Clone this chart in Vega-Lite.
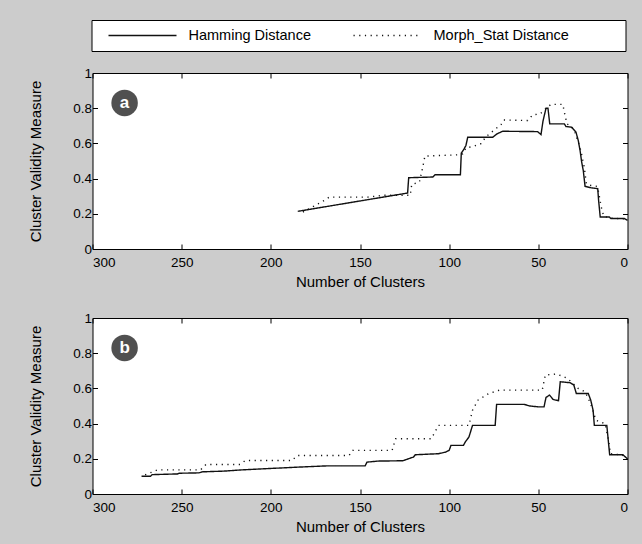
{
  "$schema": "https://vega.github.io/schema/vega-lite/v6.json",
  "background": "#cccccc",
  "padding": {"left": 27.5, "top": 19, "right": 10.5, "bottom": 9},
  "config": {
    "font": "Liberation Sans",
    "view": {"stroke": "#000000", "strokeWidth": 1, "fill": "white"},
    "axis": {
      "grid": false, "domain": false, "tickColor": "#000000", "tickSize": -5, "tickWidth": 1,
      "labelColor": "#000000", "titleColor": "#000000", "labelFontSize": 13.5, "titleFontSize": 15,
      "titleFontWeight": "normal", "labelFont": "Liberation Sans", "titleFont": "Liberation Sans"
    },
    "axisX": {"labelPadding": 11, "titlePadding": 6},
    "axisY": {"labelPadding": 6, "titlePadding": 29}
  },
  "datasets": {
    "a": [
      {"s": "Hamming Distance", "i": 1, "x": 184.9, "y": 0.214},
      {"s": "Hamming Distance", "i": 2, "x": 123.3, "y": 0.318},
      {"s": "Hamming Distance", "i": 3, "x": 122.7, "y": 0.405},
      {"s": "Hamming Distance", "i": 4, "x": 109.2, "y": 0.409},
      {"s": "Hamming Distance", "i": 5, "x": 107.9, "y": 0.422},
      {"s": "Hamming Distance", "i": 6, "x": 93.7, "y": 0.422},
      {"s": "Hamming Distance", "i": 7, "x": 93.2, "y": 0.545},
      {"s": "Hamming Distance", "i": 8, "x": 91.9, "y": 0.564},
      {"s": "Hamming Distance", "i": 9, "x": 90.6, "y": 0.588},
      {"s": "Hamming Distance", "i": 10, "x": 89.6, "y": 0.635},
      {"s": "Hamming Distance", "i": 11, "x": 75.6, "y": 0.635},
      {"s": "Hamming Distance", "i": 12, "x": 73.2, "y": 0.654},
      {"s": "Hamming Distance", "i": 13, "x": 70.0, "y": 0.669},
      {"s": "Hamming Distance", "i": 14, "x": 50.4, "y": 0.667},
      {"s": "Hamming Distance", "i": 15, "x": 48.5, "y": 0.650},
      {"s": "Hamming Distance", "i": 16, "x": 47.4, "y": 0.726},
      {"s": "Hamming Distance", "i": 17, "x": 45.7, "y": 0.800},
      {"s": "Hamming Distance", "i": 18, "x": 44.6, "y": 0.800},
      {"s": "Hamming Distance", "i": 19, "x": 43.6, "y": 0.711},
      {"s": "Hamming Distance", "i": 20, "x": 35.4, "y": 0.711},
      {"s": "Hamming Distance", "i": 21, "x": 34.5, "y": 0.696},
      {"s": "Hamming Distance", "i": 22, "x": 31.3, "y": 0.692},
      {"s": "Hamming Distance", "i": 23, "x": 28.9, "y": 0.664},
      {"s": "Hamming Distance", "i": 24, "x": 27.6, "y": 0.616},
      {"s": "Hamming Distance", "i": 25, "x": 26.6, "y": 0.560},
      {"s": "Hamming Distance", "i": 26, "x": 25.7, "y": 0.494},
      {"s": "Hamming Distance", "i": 27, "x": 24.8, "y": 0.446},
      {"s": "Hamming Distance", "i": 28, "x": 23.8, "y": 0.356},
      {"s": "Hamming Distance", "i": 29, "x": 20.5, "y": 0.348},
      {"s": "Hamming Distance", "i": 30, "x": 16.7, "y": 0.343},
      {"s": "Hamming Distance", "i": 31, "x": 16.2, "y": 0.276},
      {"s": "Hamming Distance", "i": 32, "x": 15.3, "y": 0.182},
      {"s": "Hamming Distance", "i": 33, "x": 10.2, "y": 0.182},
      {"s": "Hamming Distance", "i": 34, "x": 9.3, "y": 0.173},
      {"s": "Hamming Distance", "i": 35, "x": 1.8, "y": 0.173},
      {"s": "Hamming Distance", "i": 36, "x": 0, "y": 0.163},
      {"s": "Morph_Stat Distance", "i": 1, "x": 182, "y": 0.21},
      {"s": "Morph_Stat Distance", "i": 2, "x": 170, "y": 0.276},
      {"s": "Morph_Stat Distance", "i": 3, "x": 167.2, "y": 0.295},
      {"s": "Morph_Stat Distance", "i": 4, "x": 145.7, "y": 0.295},
      {"s": "Morph_Stat Distance", "i": 5, "x": 136.4, "y": 0.305},
      {"s": "Morph_Stat Distance", "i": 6, "x": 121.8, "y": 0.305},
      {"s": "Morph_Stat Distance", "i": 7, "x": 121, "y": 0.367},
      {"s": "Morph_Stat Distance", "i": 8, "x": 116.7, "y": 0.38},
      {"s": "Morph_Stat Distance", "i": 9, "x": 114.8, "y": 0.465},
      {"s": "Morph_Stat Distance", "i": 10, "x": 113.6, "y": 0.528},
      {"s": "Morph_Stat Distance", "i": 11, "x": 95.2, "y": 0.535},
      {"s": "Morph_Stat Distance", "i": 12, "x": 92.4, "y": 0.541},
      {"s": "Morph_Stat Distance", "i": 13, "x": 90.6, "y": 0.575},
      {"s": "Morph_Stat Distance", "i": 14, "x": 86.8, "y": 0.582},
      {"s": "Morph_Stat Distance", "i": 15, "x": 82.2, "y": 0.598},
      {"s": "Morph_Stat Distance", "i": 16, "x": 79.3, "y": 0.639},
      {"s": "Morph_Stat Distance", "i": 17, "x": 76.2, "y": 0.664},
      {"s": "Morph_Stat Distance", "i": 18, "x": 70.9, "y": 0.707},
      {"s": "Morph_Stat Distance", "i": 19, "x": 69.4, "y": 0.733},
      {"s": "Morph_Stat Distance", "i": 20, "x": 56, "y": 0.73},
      {"s": "Morph_Stat Distance", "i": 21, "x": 53.2, "y": 0.762},
      {"s": "Morph_Stat Distance", "i": 22, "x": 48.9, "y": 0.768},
      {"s": "Morph_Stat Distance", "i": 23, "x": 46.7, "y": 0.79},
      {"s": "Morph_Stat Distance", "i": 24, "x": 42.9, "y": 0.822},
      {"s": "Morph_Stat Distance", "i": 25, "x": 36.3, "y": 0.822},
      {"s": "Morph_Stat Distance", "i": 26, "x": 35, "y": 0.758},
      {"s": "Morph_Stat Distance", "i": 27, "x": 33.9, "y": 0.711},
      {"s": "Morph_Stat Distance", "i": 28, "x": 31.3, "y": 0.692},
      {"s": "Morph_Stat Distance", "i": 29, "x": 29.8, "y": 0.673},
      {"s": "Morph_Stat Distance", "i": 30, "x": 27.6, "y": 0.607},
      {"s": "Morph_Stat Distance", "i": 31, "x": 26.1, "y": 0.556},
      {"s": "Morph_Stat Distance", "i": 32, "x": 24.2, "y": 0.462},
      {"s": "Morph_Stat Distance", "i": 33, "x": 23.1, "y": 0.371},
      {"s": "Morph_Stat Distance", "i": 34, "x": 20.5, "y": 0.361},
      {"s": "Morph_Stat Distance", "i": 35, "x": 17.1, "y": 0.356},
      {"s": "Morph_Stat Distance", "i": 36, "x": 16.2, "y": 0.324},
      {"s": "Morph_Stat Distance", "i": 37, "x": 15.4, "y": 0.276},
      {"s": "Morph_Stat Distance", "i": 38, "x": 14.5, "y": 0.229},
      {"s": "Morph_Stat Distance", "i": 39, "x": 13.3, "y": 0.186},
      {"s": "Morph_Stat Distance", "i": 40, "x": 9.3, "y": 0.175},
      {"s": "Morph_Stat Distance", "i": 41, "x": 1.8, "y": 0.171},
      {"s": "Morph_Stat Distance", "i": 42, "x": 0, "y": 0.165}
    ],
    "b": [
      {"s": "Hamming Distance", "i": 1, "x": 272.5, "y": 0.101},
      {"s": "Hamming Distance", "i": 2, "x": 267.5, "y": 0.101},
      {"s": "Hamming Distance", "i": 3, "x": 266.5, "y": 0.11},
      {"s": "Hamming Distance", "i": 4, "x": 252.4, "y": 0.114},
      {"s": "Hamming Distance", "i": 5, "x": 251.4, "y": 0.118},
      {"s": "Hamming Distance", "i": 6, "x": 240.4, "y": 0.12},
      {"s": "Hamming Distance", "i": 7, "x": 238.4, "y": 0.126},
      {"s": "Hamming Distance", "i": 8, "x": 226.3, "y": 0.13},
      {"s": "Hamming Distance", "i": 9, "x": 216.3, "y": 0.137},
      {"s": "Hamming Distance", "i": 10, "x": 200.3, "y": 0.145},
      {"s": "Hamming Distance", "i": 11, "x": 186.2, "y": 0.152},
      {"s": "Hamming Distance", "i": 12, "x": 168.2, "y": 0.16},
      {"s": "Hamming Distance", "i": 13, "x": 147.1, "y": 0.16},
      {"s": "Hamming Distance", "i": 14, "x": 146.1, "y": 0.181},
      {"s": "Hamming Distance", "i": 15, "x": 140.1, "y": 0.187},
      {"s": "Hamming Distance", "i": 16, "x": 126.0, "y": 0.189},
      {"s": "Hamming Distance", "i": 17, "x": 120, "y": 0.21},
      {"s": "Hamming Distance", "i": 18, "x": 119, "y": 0.223},
      {"s": "Hamming Distance", "i": 19, "x": 106, "y": 0.229},
      {"s": "Hamming Distance", "i": 20, "x": 102, "y": 0.238},
      {"s": "Hamming Distance", "i": 21, "x": 100, "y": 0.248},
      {"s": "Hamming Distance", "i": 22, "x": 99, "y": 0.276},
      {"s": "Hamming Distance", "i": 23, "x": 92, "y": 0.276},
      {"s": "Hamming Distance", "i": 24, "x": 91, "y": 0.295},
      {"s": "Hamming Distance", "i": 25, "x": 88.9, "y": 0.324},
      {"s": "Hamming Distance", "i": 26, "x": 86.9, "y": 0.39},
      {"s": "Hamming Distance", "i": 27, "x": 74.2, "y": 0.39},
      {"s": "Hamming Distance", "i": 28, "x": 73.4, "y": 0.509},
      {"s": "Hamming Distance", "i": 29, "x": 57.8, "y": 0.509},
      {"s": "Hamming Distance", "i": 30, "x": 54.8, "y": 0.5},
      {"s": "Hamming Distance", "i": 31, "x": 49.8, "y": 0.495},
      {"s": "Hamming Distance", "i": 32, "x": 46.8, "y": 0.495},
      {"s": "Hamming Distance", "i": 33, "x": 45.7, "y": 0.549},
      {"s": "Hamming Distance", "i": 34, "x": 43.7, "y": 0.562},
      {"s": "Hamming Distance", "i": 35, "x": 41.7, "y": 0.537},
      {"s": "Hamming Distance", "i": 36, "x": 38.7, "y": 0.53},
      {"s": "Hamming Distance", "i": 37, "x": 37.7, "y": 0.638},
      {"s": "Hamming Distance", "i": 38, "x": 32.1, "y": 0.632},
      {"s": "Hamming Distance", "i": 39, "x": 30.1, "y": 0.619},
      {"s": "Hamming Distance", "i": 40, "x": 28.7, "y": 0.571},
      {"s": "Hamming Distance", "i": 41, "x": 22, "y": 0.571},
      {"s": "Hamming Distance", "i": 42, "x": 20.6, "y": 0.533},
      {"s": "Hamming Distance", "i": 43, "x": 19.3, "y": 0.476},
      {"s": "Hamming Distance", "i": 44, "x": 18.6, "y": 0.39},
      {"s": "Hamming Distance", "i": 45, "x": 11.6, "y": 0.39},
      {"s": "Hamming Distance", "i": 46, "x": 10, "y": 0.223},
      {"s": "Hamming Distance", "i": 47, "x": 2.6, "y": 0.223},
      {"s": "Hamming Distance", "i": 48, "x": 0, "y": 0.2},
      {"s": "Morph_Stat Distance", "i": 1, "x": 270.5, "y": 0.109},
      {"s": "Morph_Stat Distance", "i": 2, "x": 263.5, "y": 0.137},
      {"s": "Morph_Stat Distance", "i": 3, "x": 239.4, "y": 0.137},
      {"s": "Morph_Stat Distance", "i": 4, "x": 236.4, "y": 0.168},
      {"s": "Morph_Stat Distance", "i": 5, "x": 217.3, "y": 0.168},
      {"s": "Morph_Stat Distance", "i": 6, "x": 214.3, "y": 0.19},
      {"s": "Morph_Stat Distance", "i": 7, "x": 188.2, "y": 0.19},
      {"s": "Morph_Stat Distance", "i": 8, "x": 185.2, "y": 0.219},
      {"s": "Morph_Stat Distance", "i": 9, "x": 156.1, "y": 0.219},
      {"s": "Morph_Stat Distance", "i": 10, "x": 154.1, "y": 0.248},
      {"s": "Morph_Stat Distance", "i": 11, "x": 132, "y": 0.248},
      {"s": "Morph_Stat Distance", "i": 12, "x": 130, "y": 0.314},
      {"s": "Morph_Stat Distance", "i": 13, "x": 110, "y": 0.314},
      {"s": "Morph_Stat Distance", "i": 14, "x": 106, "y": 0.39},
      {"s": "Morph_Stat Distance", "i": 15, "x": 88.9, "y": 0.39},
      {"s": "Morph_Stat Distance", "i": 16, "x": 86.9, "y": 0.476},
      {"s": "Morph_Stat Distance", "i": 17, "x": 83.9, "y": 0.533},
      {"s": "Morph_Stat Distance", "i": 18, "x": 77.8, "y": 0.571},
      {"s": "Morph_Stat Distance", "i": 19, "x": 71.8, "y": 0.59},
      {"s": "Morph_Stat Distance", "i": 20, "x": 47.8, "y": 0.59},
      {"s": "Morph_Stat Distance", "i": 21, "x": 46.1, "y": 0.676},
      {"s": "Morph_Stat Distance", "i": 22, "x": 39.7, "y": 0.682},
      {"s": "Morph_Stat Distance", "i": 23, "x": 33.7, "y": 0.657},
      {"s": "Morph_Stat Distance", "i": 24, "x": 27.7, "y": 0.6},
      {"s": "Morph_Stat Distance", "i": 25, "x": 23.7, "y": 0.58},
      {"s": "Morph_Stat Distance", "i": 26, "x": 20.7, "y": 0.514},
      {"s": "Morph_Stat Distance", "i": 27, "x": 17.7, "y": 0.419},
      {"s": "Morph_Stat Distance", "i": 28, "x": 12.6, "y": 0.4},
      {"s": "Morph_Stat Distance", "i": 29, "x": 10.6, "y": 0.305},
      {"s": "Morph_Stat Distance", "i": 30, "x": 9.6, "y": 0.229},
      {"s": "Morph_Stat Distance", "i": 31, "x": 3, "y": 0.222},
      {"s": "Morph_Stat Distance", "i": 32, "x": 0, "y": 0.2}
    ]
  },
  "spacing": 20,
  "resolve": {"scale": {"strokeDash": "independent"}, "legend": {"strokeDash": "independent"}},
  "vconcat": [
    {
      "width": 535,
      "height": 176,
      "data": {"name": "a"},
      "resolve": {"axis": {"x": "independent", "y": "independent"}},
      "layer": [
        {
          "mark": {"type": "line", "color": "#111111", "strokeWidth": 1.4},
          "encoding": {
            "x": {"field": "x", "type": "quantitative", "scale": {"domain": [0, 300], "reverse": true, "nice": false},
                  "axis": {"orient": "bottom", "title": "Number of Clusters", "values": [0, 50, 100, 150, 200, 250, 300]}},
            "y": {"field": "y", "type": "quantitative", "scale": {"domain": [0, 1], "nice": false},
                  "axis": {"orient": "left", "title": "Cluster Validity Measure", "values": [0, 0.2, 0.4, 0.6, 0.8, 1], "labelExpr": "'' + datum.value"}},
            "strokeDash": {"field": "s", "type": "nominal",
              "scale": {"domain": ["Hamming Distance", "Morph_Stat Distance"], "range": [[1, 0], [1.2, 4.5]]},
              "legend": {
                "orient": "none", "legendX": -1, "legendY": -53, "direction": "horizontal", "title": null,
                "symbolType": "stroke", "symbolSize": 4624, "symbolStrokeColor": "#111111", "symbolStrokeWidth": 1.3,
                "symbolOffset": 8, "labelOffset": 11, "labelFontSize": 14.5, "labelColor": "#000000", "labelLimit": 500,
                "padding": 8, "clipHeight": 15, "columnPadding": 33, "strokeColor": "#000000", "fillColor": "white",
                "labelExpr": "datum.label == 'Morph_Stat Distance' ? datum.label + '\u00a0\u00a0\u00a0\u00a0\u00a0\u00a0\u00a0\u00a0\u00a0\u00a0\u00a0\u00a0\u200b' : datum.label"
              }},
            "order": {"field": "i", "type": "quantitative"}
          }
        },
        {
          "data": {"values": [{"tag": "a"}]},
          "mark": {"type": "point", "shape": "circle", "filled": true, "size": 700, "color": "#505050", "opacity": 1},
          "encoding": {
            "x": {"datum": 282, "type": "quantitative", "axis": {"orient": "top", "labels": false, "title": null, "values": [0, 50, 100, 150, 200, 250, 300]}},
            "y": {"datum": 0.83, "type": "quantitative", "axis": {"orient": "right", "labels": false, "title": null, "values": [0, 0.2, 0.4, 0.6, 0.8, 1]}}
          }
        },
        {
          "data": {"values": [{"tag": "a"}]},
          "mark": {"type": "text", "color": "white", "fontWeight": "bold", "fontSize": 17, "baseline": "middle", "align": "center"},
          "encoding": {
            "x": {"datum": 282, "type": "quantitative", "axis": null},
            "y": {"datum": 0.83, "type": "quantitative", "axis": null},
            "text": {"field": "tag"}
          }
        }
      ]
    },
    {
      "width": 535,
      "height": 176,
      "data": {"name": "b"},
      "resolve": {"axis": {"x": "independent", "y": "independent"}},
      "layer": [
        {
          "mark": {"type": "line", "color": "#111111", "strokeWidth": 1.4},
          "encoding": {
            "x": {"field": "x", "type": "quantitative", "scale": {"domain": [0, 300], "reverse": true, "nice": false},
                  "axis": {"orient": "bottom", "title": "Number of Clusters", "values": [0, 50, 100, 150, 200, 250, 300]}},
            "y": {"field": "y", "type": "quantitative", "scale": {"domain": [0, 1], "nice": false},
                  "axis": {"orient": "left", "title": "Cluster Validity Measure", "values": [0, 0.2, 0.4, 0.6, 0.8, 1], "labelExpr": "'' + datum.value"}},
            "strokeDash": {"field": "s", "type": "nominal",
              "scale": {"domain": ["Hamming Distance", "Morph_Stat Distance"], "range": [[1, 0], [1.2, 4.5]]},
              "legend": null},
            "order": {"field": "i", "type": "quantitative"}
          }
        },
        {
          "data": {"values": [{"tag": "b"}]},
          "mark": {"type": "point", "shape": "circle", "filled": true, "size": 700, "color": "#505050", "opacity": 1},
          "encoding": {
            "x": {"datum": 282, "type": "quantitative", "axis": {"orient": "top", "labels": false, "title": null, "values": [0, 50, 100, 150, 200, 250, 300]}},
            "y": {"datum": 0.83, "type": "quantitative", "axis": {"orient": "right", "labels": false, "title": null, "values": [0, 0.2, 0.4, 0.6, 0.8, 1]}}
          }
        },
        {
          "data": {"values": [{"tag": "b"}]},
          "mark": {"type": "text", "color": "white", "fontWeight": "bold", "fontSize": 17, "baseline": "middle", "align": "center"},
          "encoding": {
            "x": {"datum": 282, "type": "quantitative", "axis": null},
            "y": {"datum": 0.83, "type": "quantitative", "axis": null},
            "text": {"field": "tag"}
          }
        }
      ]
    }
  ]
}
